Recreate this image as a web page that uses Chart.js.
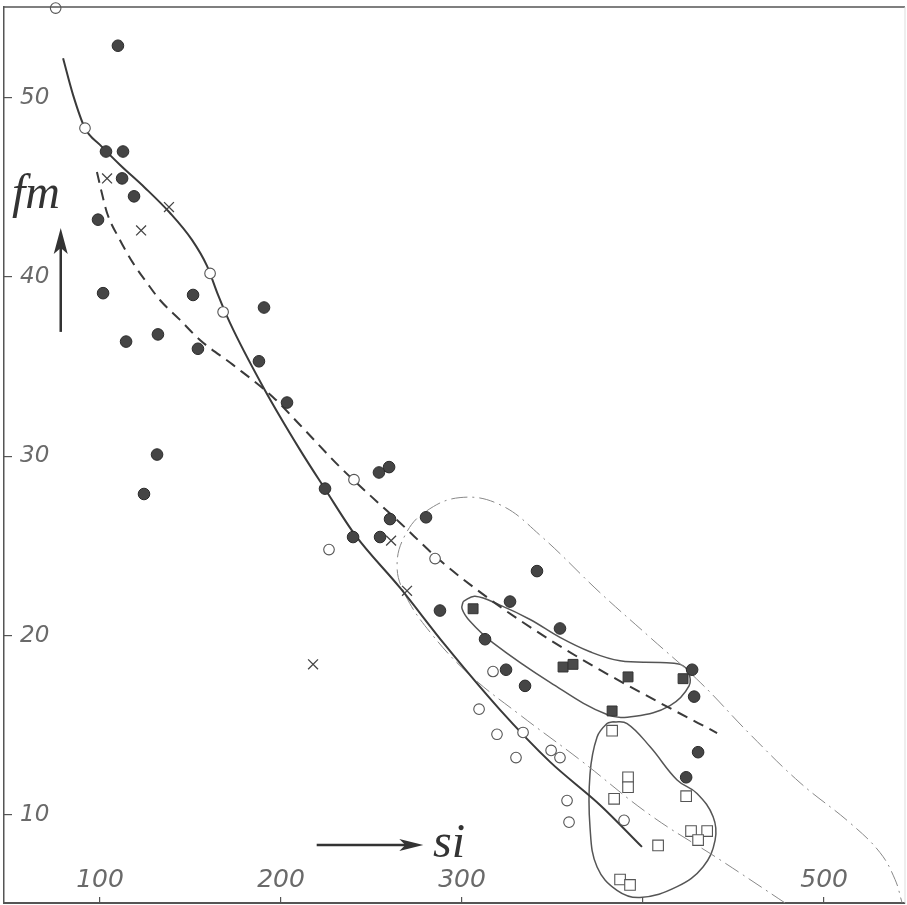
<!DOCTYPE html>
<html>
<head>
<meta charset="utf-8">
<script src="https://cdn.jsdelivr.net/npm/chart.js@4.4.1/dist/chart.umd.min.js"></script>
<style>
  html, body { margin: 0; padding: 0; background: #fff; }
  #wrap { width: 907px; height: 905px; }
</style>
</head>
<body>
<div id="wrap"><canvas id="mycanvas" width="907" height="905"></canvas></div>
<script>
// axis ticks
var xTicks = [100, 200, 300, 400, 500];
var xTickLabels = ['100', '200', '300', '', '500'];
var yTicks = [10, 20, 30, 40, 50];

// filled circles
var filledX = [109.9, 103.3, 112.7, 112.2, 118.8, 98.9, 101.7, 151.4, 190.6, 114.4, 132.0, 154.1, 187.8, 203.3, 131.5, 124.3,
  259.7, 254.1, 224.3, 260.2, 280.1, 239.8, 254.7, 287.8, 312.7, 341.4, 326.5, 354.1, 324.3, 334.8, 427.1, 428.2, 430.4, 423.8];
var filledY = [52.9, 47.0, 47.0, 45.5, 44.5, 43.2, 39.1, 39.0, 38.3, 36.4, 36.8, 36.0, 35.3, 33.0, 30.1, 27.9,
  29.4, 29.1, 28.2, 26.5, 26.6, 25.5, 25.5, 21.4, 19.8, 23.6, 21.9, 20.4, 18.1, 17.2, 18.1, 16.6, 13.5, 12.1];

// open circles
var openX = [75.5, 91.7, 160.8, 168.0, 240.3, 226.5, 285.1, 317.1, 309.4, 319.3, 333.7, 329.8, 349.2, 354.1, 358.0, 359.1, 389.5];
var openY = [55.0, 48.3, 40.2, 38.05, 28.7, 24.8, 24.3, 18.0, 15.9, 14.5, 14.6, 13.2, 13.6, 13.2, 10.8, 9.6, 9.7];

// crosses
var crossX = [103.9, 122.7, 138.1, 217.7, 260.8, 269.6];
var crossY = [45.5, 42.6, 43.9, 18.4, 25.3, 22.5];

// filled squares
var fsqX = [306.1, 355.8, 361.3, 391.7, 422.1, 382.9];
var fsqY = [21.5, 18.25, 18.4, 17.7, 17.6, 15.8];

// open squares
var osqX = [382.9, 391.7, 391.7, 384.0, 423.8, 426.5, 435.4, 430.4, 408.3, 387.3, 392.8];
var osqY = [14.7, 12.1, 11.55, 10.9, 11.05, 9.1, 9.1, 8.6, 8.3, 6.4, 6.1];

// solid trend curve
var solidX = [79.6, 85.1, 91.7, 100.0, 111.1, 124.9, 138.7, 150.8, 159.1, 165.2, 171.8, 190.1, 210.5, 224.3, 240.9, 265.8, 290.6, 321.0, 348.6, 376.2, 399.4];
var solidY = [52.2, 50.16, 48.3, 47.37, 46.25, 44.97, 43.57, 42.07, 40.62, 39.0, 37.44, 33.87, 30.36, 28.18, 25.62, 22.66, 19.48, 15.86, 12.96, 10.56, 8.22];

// dashed trend curve
var dashX = [98.3, 100.6, 103.9, 111.0, 118.2, 126.0, 133.1, 144.2, 155.2, 173.5, 195.6, 210.5, 232.6, 265.7, 287.8, 317.1, 348.6, 376.2, 409.4, 440.9];
var dashY = [45.86, 44.86, 43.57, 42.07, 40.79, 39.67, 38.72, 37.61, 36.49, 35.1, 33.3, 31.75, 29.4, 26.3, 24.2, 21.9, 19.76, 18.09, 16.25, 14.57];

// dash-dot envelope
var envX = [478.5, 442.5, 403.9, 365.2, 332.0, 304.4, 282.3, 268.5, 264.1, 268.5, 279.6, 298.9, 321.0, 343.1, 376.2, 403.9, 431.5, 459.1, 486.7, 514.4, 530.9, 539.2, 543.1];
var envY = [5.09, 7.5, 10.0, 13.07, 15.58, 17.8, 20.2, 22.3, 23.9, 25.6, 26.9, 27.7, 27.3, 25.6, 22.4, 19.9, 17.4, 14.5, 11.8, 9.55, 7.9, 6.4, 5.1];

// loop round the filled squares
var loopAX = [300.6, 307.2, 321.0, 337.6, 354.1, 370.7, 387.3, 409.4, 420.4, 424.9, 425.4, 414.9, 395.6, 380.1, 348.6, 317.1, 304.4, 300.0, 300.6];
var loopAY = [21.9, 22.2, 21.7, 20.9, 19.9, 19.1, 18.6, 18.5, 18.4, 18.0, 17.2, 16.1, 15.5, 15.6, 17.4, 19.6, 20.8, 21.5, 21.9];

// loop round the open squares
var loopBX = [383.4, 391.2, 403.9, 418.8, 429.8, 438.7, 439.8, 433.1, 418.8, 398.3, 385.6, 374.6, 370.7, 370.7, 374.6, 380.1, 383.4];
var loopBY = [15.2, 15.1, 13.8, 11.95, 11.2, 9.9, 8.6, 7.1, 6.0, 5.4, 5.8, 7.1, 9.3, 12.3, 14.35, 15.1, 15.2];

function pts(xs, ys) {
  return xs.map(function(x, i) { return {x: x, y: ys[i]}; });
}

// frame, arrows and axis names
var extras = {
  id: 'extras',
  afterDraw: function(chart) {
    var ctx = chart.ctx;
    var a = chart.chartArea;
    var xs = chart.scales.x, ys = chart.scales.y;
    ctx.save();
    ctx.strokeStyle = '#555';
    ctx.lineWidth = 1.5;
    ctx.beginPath();
    ctx.moveTo(a.left, a.top);
    ctx.lineTo(a.right, a.top);
    ctx.stroke();
    ctx.strokeStyle = '#ddd';
    ctx.lineWidth = 1;
    ctx.beginPath();
    ctx.moveTo(a.right, a.top);
    ctx.lineTo(a.right, a.bottom);
    ctx.stroke();

    // vertical arrow
    ctx.strokeStyle = '#333';
    ctx.fillStyle = '#333';
    ctx.lineWidth = 2.5;
    var ax = xs.getPixelForValue(78.3);
    var ay1 = ys.getPixelForValue(36.94), ay2 = ys.getPixelForValue(42.74);
    ctx.beginPath();
    ctx.moveTo(ax, ay1);
    ctx.lineTo(ax, ay2 + 10);
    ctx.stroke();
    ctx.beginPath();
    ctx.moveTo(ax, ay2);
    ctx.lineTo(ax - 7, ay2 + 26);
    ctx.lineTo(ax, ay2 + 20);
    ctx.lineTo(ax + 7, ay2 + 26);
    ctx.closePath();
    ctx.fill();

    // horizontal arrow
    var bx1 = xs.getPixelForValue(219.7), bx2 = xs.getPixelForValue(278.6);
    var by = ys.getPixelForValue(8.33);
    ctx.beginPath();
    ctx.moveTo(bx1, by);
    ctx.lineTo(bx2 - 10, by);
    ctx.stroke();
    ctx.beginPath();
    ctx.moveTo(bx2, by);
    ctx.lineTo(bx2 - 24, by - 6);
    ctx.lineTo(bx2 - 18, by);
    ctx.lineTo(bx2 - 24, by + 6);
    ctx.closePath();
    ctx.fill();

    // axis names
    ctx.fillStyle = '#333';
    ctx.textAlign = 'left';
    ctx.textBaseline = 'alphabetic';
    ctx.font = 'italic 48px "Liberation Serif"';
    ctx.fillText('fm', xs.getPixelForValue(51.4), ys.getPixelForValue(43.85));
    ctx.fillText('si', xs.getPixelForValue(284.0), ys.getPixelForValue(7.66));
    ctx.restore();
  }
};

function curve(xs, ys, width, color, dash, mode) {
  return {
    data: pts(xs, ys),
    showLine: true,
    pointRadius: 0,
    borderColor: color,
    borderWidth: width,
    borderDash: dash,
    tension: 0.4,
    cubicInterpolationMode: mode || 'default',
    fill: false
  };
}

function noPad(s) {
  s.paddingTop = 0;
  s.paddingBottom = 0;
  s.paddingLeft = 0;
  s.paddingRight = 0;
}

var ctx = document.getElementById('mycanvas');

var chart = new Chart(ctx, {
  type: 'scatter',
  data: {
    datasets: [
      {data: pts(filledX, filledY), pointStyle: 'circle', pointRadius: 5.8, backgroundColor: '#454545', borderColor: '#2a2a2a', borderWidth: 1},
      {data: pts(openX, openY), pointStyle: 'circle', pointRadius: 5.3, backgroundColor: '#fff', borderColor: '#555', borderWidth: 1.1, clip: false},
      {data: pts(crossX, crossY), pointStyle: 'crossRot', pointRadius: 7, backgroundColor: '#444', borderColor: '#444', borderWidth: 1.3},
      {data: pts(fsqX, fsqY), pointStyle: 'rect', pointRadius: 7, backgroundColor: '#4a4a4a', borderColor: '#333', borderWidth: 1},
      {data: pts(osqX, osqY), pointStyle: 'rect', pointRadius: 7.5, backgroundColor: '#fff', borderColor: '#555', borderWidth: 1.1},
      curve(solidX, solidY, 2, '#3a3a3a', [], 'monotone'),
      curve(dashX, dashY, 2, '#3a3a3a', [11, 7], 'monotone'),
      curve(envX, envY, 1, '#888', [16, 5, 2, 5]),
      curve(loopAX, loopAY, 1.5, '#555', []),
      curve(loopBX, loopBY, 1.5, '#555', [])
    ]
  },
  options: {
    responsive: false,
    animation: false,
    devicePixelRatio: 1,
    layout: {autoPadding: false, padding: {left: 4, top: 7, right: 2, bottom: 2}},
    plugins: {legend: {display: false}, tooltip: {enabled: false}},
    scales: {
      x: {
        type: 'linear',
        position: 'bottom',
        min: 46.96,
        max: 544.7,
        afterBuildTicks: function(s) { s.ticks = xTicks.map(function(v) { return {value: v}; }); },
        afterFit: function(s) { s.height = 0; noPad(s); },
        grid: {drawOnChartArea: false, drawTicks: true, tickLength: -6, color: '#555', lineWidth: 1.2},
        border: {display: true, color: '#555', width: 2},
        ticks: {
          mirror: true,
          padding: 8,
          color: '#6a6a6a',
          font: {family: 'DejaVu Sans', size: 25, style: 'italic'},
          maxRotation: 0,
          autoSkip: false,
          callback: function(v, i) { return xTickLabels[i]; }
        }
      },
      y: {
        type: 'linear',
        position: 'left',
        min: 5.09,
        max: 55.06,
        afterBuildTicks: function(s) { s.ticks = yTicks.map(function(v) { return {value: v}; }); },
        afterFit: function(s) { s.width = 0; noPad(s); },
        grid: {drawOnChartArea: false, drawTicks: true, tickLength: -8, color: '#555', lineWidth: 1.2},
        border: {display: true, color: '#555', width: 1.5},
        ticks: {
          mirror: true,
          padding: 16,
          color: '#6a6a6a',
          font: {family: 'DejaVu Sans', size: 23, style: 'italic'},
          callback: function(v) { return String(v); }
        }
      }
    }
  },
  plugins: [extras]
});
</script>
</body>
</html>
